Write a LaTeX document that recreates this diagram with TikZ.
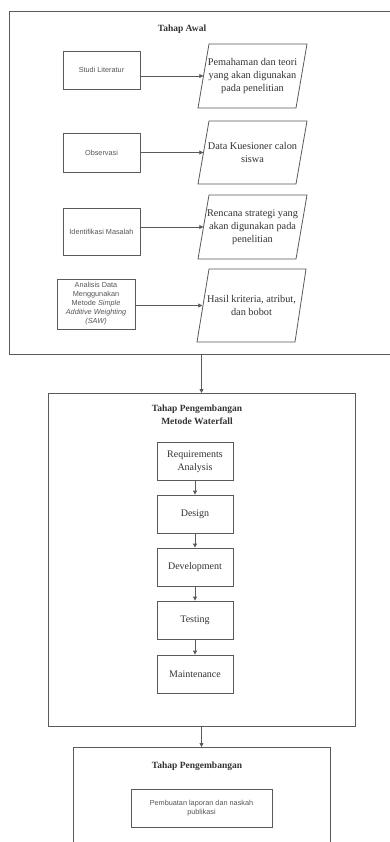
\documentclass[tikz,border=0pt]{standalone}
\usepackage{fontspec}
\setmainfont{Liberation Serif}
\setsansfont{Liberation Sans}
\usetikzlibrary{arrows.meta}
\definecolor{ln}{HTML}{5A5A5A}
\definecolor{tx}{HTML}{333333}
\definecolor{stx}{HTML}{555555}
\tikzset{
  frame/.style={draw=ln, line width=0.9pt},
  sbox/.style={draw=ln, line width=0.8pt, align=center, font=\sffamily\fontsize{7.3}{9}\selectfont, text=stx, inner sep=0pt},
  wbox/.style={draw=ln, line width=0.8pt, align=center, font=\fontsize{10}{12.7}\selectfont, text=tx, minimum width=76pt, minimum height=38pt, inner sep=0pt},
  ptext/.style={align=center, font=\fontsize{10.3}{13}\selectfont, text=tx, inner sep=0pt},
  ttl/.style={font=\bfseries\fontsize{9.5}{13}\selectfont, text=tx, align=center},
  arr/.style={draw=ln, line width=0.8pt, -{Triangle[length=4pt,width=4pt]}},
  para/.style={draw=ln, line width=0.8pt}
}
\begin{document}
\begin{tikzpicture}[x=1pt,y=-1pt]
\useasboundingbox (0,0) rectangle (390,842);
\clip (0,0) rectangle (390,842);
\fill[white] (0,0) rectangle (390,842);
% Frame 1
\node[frame, minimum width=390pt, minimum height=343pt, anchor=north west, inner sep=0pt] (f1) at (9,11) {};
\node[ttl] (t1) at (182,29) {Tahap Awal};
% left boxes
\node[sbox, minimum width=77pt, minimum height=38pt] (s1) at (101.5,70) {Studi Literatur};
\node[sbox, minimum width=77pt, minimum height=39pt] (s2) at (101.5,152.5) {Observasi};
\node[sbox, minimum width=77pt, minimum height=47pt] (s3) at (101.5,231.5) {Identifikasi Masalah};
\node[sbox, minimum width=78pt, minimum height=50pt] (s4) at (96,304) {Analisis Data\\Menggunakan\\Metode \textit{Simple}\\\textit{Additive Weighting}\\\textit{(SAW)}};
% parallelograms
\draw[para] (209,44) -- (307,44) -- (296,108) -- (198,108) -- cycle;
\node[ptext, minimum width=98pt, minimum height=64pt] (p1) at (252.5,76) {Pemahaman dan teori\\yang akan digunakan\\pada penelitian};
\draw[para] (209,121) -- (307,121) -- (296,184) -- (198,184) -- cycle;
\node[ptext, minimum width=98pt, minimum height=63pt] (p2) at (252.5,152.5) {Data Kuesioner calon\\siswa};
\draw[para] (209,195) -- (307,195) -- (296,259) -- (198,259) -- cycle;
\node[ptext, minimum width=98pt, minimum height=64pt] (p3) at (252.5,227) {Rencana strategi yang\\akan digunakan pada\\penelitian};
\draw[para] (209,269) -- (306,269) -- (295,342) -- (197,342) -- cycle;
\node[ptext, minimum width=98pt, minimum height=73pt] (p4) at (251.5,305.5) {Hasil kriteria, atribut,\\dan bobot};
\draw[arr] (s1.east |- p1.west) -- (p1.west);
\draw[arr] (s2.east |- p2.west) -- (p2.west);
\draw[arr] (s3.east |- p3.west) -- (p3.west);
\draw[arr] (s4.east |- p4.west) -- (p4.west);
% Frame 2
\node[frame, minimum width=307pt, minimum height=333pt, anchor=north west, inner sep=0pt] (f2) at (48,393) {};
\coordinate (a1) at (201.5,354);
\draw[arr] (a1) -- (a1 |- f2.north);
\node[ttl] (t2) at (197,414.5) {Tahap Pengembangan\\Metode Waterfall};
\node[wbox] (w1) at (195,461.5) {Requirements\\Analysis};
\node[wbox] (w2) at (195,514) {Design};
\node[wbox] (w3) at (195,567) {Development};
\node[wbox] (w4) at (195,620) {Testing};
\node[wbox] (w5) at (195,674) {Maintenance};
\draw[arr] (w1) -- (w2);
\draw[arr] (w2) -- (w3);
\draw[arr] (w3) -- (w4);
\draw[arr] (w4) -- (w5);
% Frame 3
\node[frame, minimum width=257pt, minimum height=120pt, anchor=north west, inner sep=0pt] (f3) at (73,747) {};
\coordinate (a2) at (201.5,726);
\draw[arr] (a2) -- (a2 |- f3.north);
\node[ttl] (t3) at (197,766) {Tahap Pengembangan};
\node[sbox, minimum width=141pt, minimum height=38pt] (r1) at (201.5,808) {Pembuatan laporan dan naskah\\publikasi};
\end{tikzpicture}
\end{document}
